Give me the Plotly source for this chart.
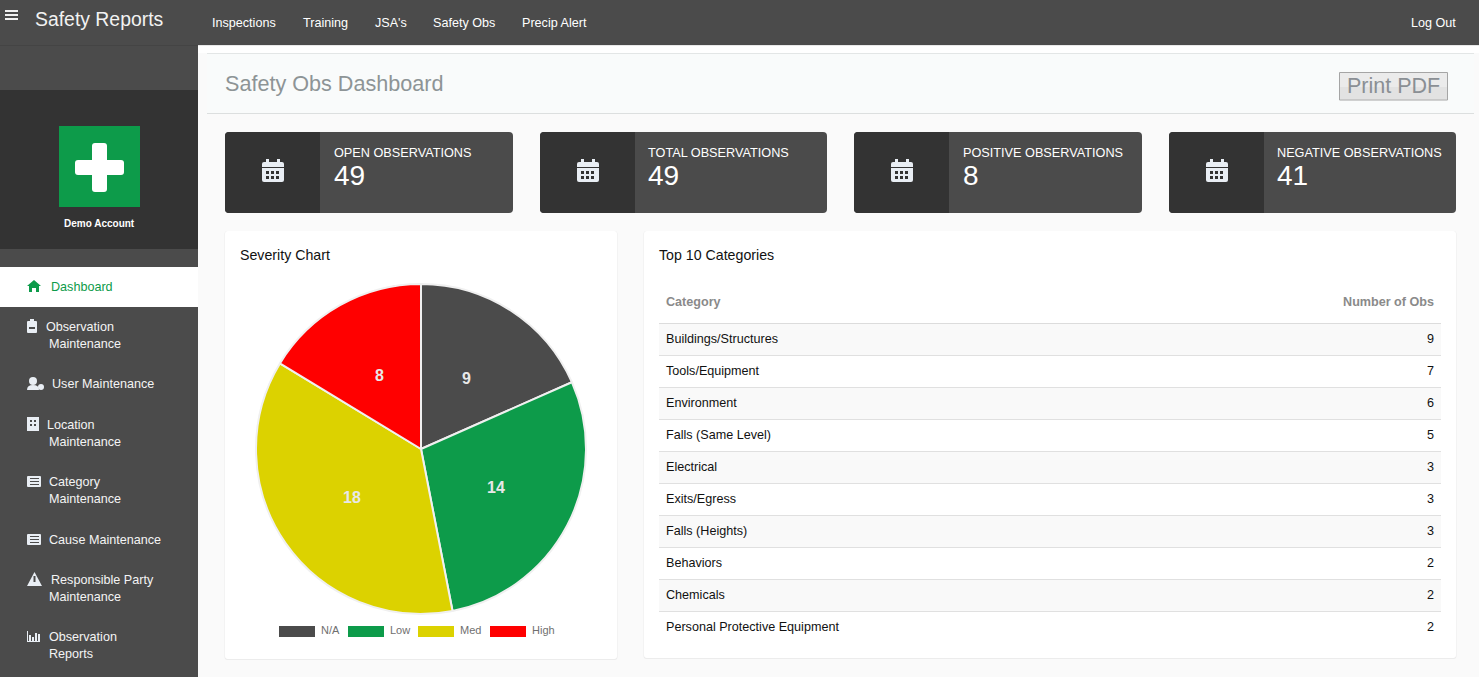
import math
import plotly.graph_objects as go

# chart data
severity_labels = ["N/A", "Low", "Med", "High"]
severity_values = [9, 14, 18, 8]
severity_colors = ["#4b4b4b", "#0d9b4a", "#dcd200", "#ff0000"]

categories = [
    "Buildings/Structures", "Tools/Equipment", "Environment", "Falls (Same Level)", "Electrical",
    "Exits/Egress", "Falls (Heights)", "Behaviors", "Chemicals", "Personal Protective Equipment",
]
category_counts = [9, 7, 6, 5, 3, 3, 3, 2, 2, 2]

stat_titles = ["OPEN OBSERVATIONS", "TOTAL OBSERVATIONS", "POSITIVE OBSERVATIONS", "NEGATIVE OBSERVATIONS"]
stat_values = [49, 49, 8, 41]

nav_labels = ["Inspections", "Training", "JSA's", "Safety Obs", "Precip Alert"]

W, H = 1479, 677
DARK = "#4b4b4b"
DARKER = "#333333"
GREEN = "#0d9b4a"
FONT = "Liberation Sans"
ICON = "#e9eef4"

shapes = []
annotations = []


def rect(x0, y0, x1, y1, fill, layer="below"):
    shapes.append(dict(type="rect", xref="x", yref="y", x0=x0, y0=y0, x1=x1, y1=y1,
                       fillcolor=fill, line_width=0, layer=layer))


def circle(x0, y0, x1, y1, fill):
    shapes.append(dict(type="circle", xref="x", yref="y", x0=x0, y0=y0, x1=x1, y1=y1,
                       fillcolor=fill, line_width=0, layer="below"))


def rrect_path(x0, y0, x1, y1, r=3, left=True, right=True):
    rl = r if left else 0
    rr = r if right else 0
    return (f"M{x0 + rl},{y0} L{x1 - rr},{y0} Q{x1},{y0} {x1},{y0 + rr} L{x1},{y1 - rr} Q{x1},{y1} {x1 - rr},{y1} "
            f"L{x0 + rl},{y1} Q{x0},{y1} {x0},{y1 - rl} L{x0},{y0 + rl} Q{x0},{y0} {x0 + rl},{y0} Z")


def path(d, fill, layer="below"):
    shapes.append(dict(type="path", xref="x", yref="y", path=d, fillcolor=fill, line_width=0, layer=layer))


def hline(x0, x1, y, color):
    shapes.append(dict(type="line", xref="x", yref="y", x0=x0, x1=x1, y0=y, y1=y,
                       line=dict(color=color, width=1), layer="below"))


def text(x, y, s, size=12.6, color="#ffffff", anchor="left", bold=False):
    annotations.append(dict(x=x, y=y, xref="x", yref="y", text=f"<b>{s}</b>" if bold else s, showarrow=False,
                            xanchor=anchor, yanchor="middle", borderpad=0, borderwidth=0,
                            font=dict(family=FONT, size=size, color=color)))


def calendar(x, y):
    # x, y = top-left of the icon
    path(rrect_path(x, y + 3, x + 22, y + 23, 2), ICON)
    rect(x + 4, y, x + 7, y + 5, ICON)
    rect(x + 15, y, x + 18, y + 5, ICON)
    rect(x, y + 8, x + 22, y + 9, DARKER)
    for row in (12, 17):
        for col in (4, 9, 14):
            rect(x + col, y + row, x + col + 3, y + row + 3, DARKER)


# page frame
rect(0, 0, 198, H, DARK)
rect(198, 45, W, 53, "#ffffff")
rect(207, 53, W - 5, 113, "#f9fbfb")
hline(207, W - 5, 53.5, "#e3e6e6")
hline(207, W - 5, 113.5, "#dcdfdf")
rect(0, 0, W, 45, DARK)
rect(0, 45, 198, 46, "#444444")
rect(198, 45, W, 46, "#e8e8e8")

# hamburger + navbar
for y in (10, 14, 18):
    rect(5, y, 18, y + 2, "#f2f2f2")
text(35, 18.5, "Safety Reports", size=19.4, color="#f2f2f2")
for x, s in zip([212, 303, 375, 433, 522], nav_labels):
    text(x, 23, s, size=12.6, color="#ffffff")
text(1456, 23, "Log Out", size=12.6, anchor="right")

# account block
rect(0, 90, 198, 249, DARKER)
rect(59, 126, 140, 207, GREEN)
path(rrect_path(92, 143, 107, 192, 3), "#ffffff")
path(rrect_path(75, 160, 124, 175, 3), "#ffffff")
text(99.5, 223, "Demo Account", size=10, anchor="center", bold=True)

# sidebar
rect(0, 267, 198, 307, "#ffffff")
path("M27,286 L34,280 L41,286 L39,286 L39,292 L36,292 L36,288 L32,288 L32,292 L29,292 L29,286 Z", GREEN)
text(51, 287, "Dashboard", color=GREEN)
sidebar_text = [
    (46, 327, "Observation"), (49, 344, "Maintenance"), (52, 384, "User Maintenance"),
    (47, 425, "Location"), (49, 442, "Maintenance"), (49, 482, "Category"), (49, 499, "Maintenance"),
    (49, 540, "Cause Maintenance"), (51, 580, "Responsible Party"), (49, 597, "Maintenance"),
    (49, 637, "Observation"), (49, 654, "Reports"),
]
for x, y, s in sidebar_text:
    text(x, y, s, color="#f4f4f4")
# sidebar icons
path(rrect_path(27, 321, 37, 333, 1), ICON)
rect(30, 319, 34, 322, ICON)
rect(29, 327, 35, 329, DARK)
circle(29, 377, 37, 385, ICON)
path("M27,390 Q27,385 33,385 Q39,385 39,390 Z", ICON)
circle(38, 384, 44, 390, ICON)
rect(27, 417, 39, 431, ICON)
for yy in (420, 424):
    rect(30, yy, 32, yy + 2, DARK)
    rect(34, yy, 36, yy + 2, DARK)
for yy in (476, 534):
    path(rrect_path(27, yy, 41, yy + 11, 1), ICON)
    for dy in (2, 5, 8):
        rect(30, yy + dy, 39, yy + dy + 1, DARK)
path("M34.5,572 L42,586 L27,586 Z", ICON)
rect(33.5, 576, 35.5, 582, DARK)
rect(27, 631, 28, 642, ICON)
rect(27, 641, 40, 642, ICON)
for xx, top in zip((29, 32, 35, 38), (635, 637, 633, 634)):
    rect(xx, top, xx + 2, 641, ICON)

# title row
text(225, 83.5, "Safety Obs Dashboard", size=21.6, color="#8d9496")
shapes.append(dict(type="rect", xref="x", yref="y", x0=1339.5, x1=1447.5, y0=72.5, y1=100,
                   fillcolor="#ebebeb", line=dict(color="#a5a5a5", width=1), layer="below"))
rect(1340, 87, 1447, 99, "#e2e2e2")
text(1393, 85.5, "Print PDF", size=21.5, color="#8a8f94", anchor="center")

# stat cards
for x0, x1, tx, title, value in zip([225, 540, 854, 1169], [513, 827, 1142, 1456], [334, 648, 963, 1277],
                                    stat_titles, stat_values):
    path(rrect_path(x0, 132, x1, 213, 4), DARK)
    path(rrect_path(x0, 132, x0 + 95, 213, 4, right=False), DARKER)
    calendar(x0 + 37, 159)
    text(tx, 152.5, title, size=12.7, color="#ffffff")
    text(tx, 175.5, str(value), size=28, color="#ffffff")

# white panels
for x0, x1, y1 in [(225, 617, 659), (644, 1456, 658)]:
    path(rrect_path(x0 - 0.5, 231, x1 + 0.5, y1 + 1, 3), "#ececec")
    path(rrect_path(x0, 231, x1, y1, 3), "#ffffff")
text(240, 255, "Severity Chart", size=14.2, color="#111111")
text(659, 255, "Top 10 Categories", size=14.2, color="#111111")

# pie legend
for x0, label, color in zip([279, 348, 418, 490], severity_labels, severity_colors):
    rect(x0, 626, x0 + 36, 637, color)
    text(x0 + 42, 630, label, size=11, color="#6f6f6f")

# pie value labels sit at half radius on each slice's middle angle
PIE_CX, PIE_CY, PIE_R = 421, 449, 165
running = 0
for value in severity_values:
    angle = 2 * math.pi * (running + value / 2) / sum(severity_values)
    running += value
    text(PIE_CX + 0.51 * PIE_R * math.sin(angle), PIE_CY - 0.51 * PIE_R * math.cos(angle), str(value),
         size=16, color="#e8e8e8", anchor="center", bold=True)

# table stripes and rules
for i in range(len(categories)):
    if i % 2 == 0:
        rect(659, 323 + 32 * i, 1441, 355 + 32 * i, "#f9f9f9")
    if i > 0:
        hline(659, 1441, 323.5 + 32 * i, "#e0e0e0")
hline(659, 1441, 323.5, "#dcdcdc")

fig = go.Figure()
fig.add_trace(go.Scatter(x=[], y=[], showlegend=False, hoverinfo="skip"))
fig.add_trace(go.Pie(
    labels=severity_labels,
    values=severity_values,
    marker=dict(colors=severity_colors, line=dict(color="#f0f0f0", width=2)),
    sort=False,
    direction="clockwise",
    rotation=0,
    textinfo="none",
    domain=dict(x=[(PIE_CX - PIE_R) / W, (PIE_CX + PIE_R) / W], y=[1 - (PIE_CY + PIE_R) / H, 1 - (PIE_CY - PIE_R) / H]),
    showlegend=False,
    hoverinfo="label+value",
))
fig.add_trace(go.Table(
    domain=dict(x=[658 / W, 1442 / W], y=[1 - 650 / H, 1 - 287 / H]),
    columnwidth=[650, 134],
    header=dict(
        values=["<b>Category</b>", "<b>Number of Obs</b>"],
        align=["left", "right"],
        height=39,
        fill_color="rgba(0,0,0,0)",
        line_width=0,
        font=dict(family=FONT, size=12.6, color="#8a8a8a"),
    ),
    cells=dict(
        values=[categories, category_counts],
        align=["left", "right"],
        height=32,
        fill_color="rgba(0,0,0,0)",
        line_width=0,
        font=dict(family=FONT, size=12.6, color="#111111"),
    ),
))

fig.update_layout(
    width=W,
    height=H,
    margin=dict(l=0, r=0, t=0, b=0),
    paper_bgcolor="#fafafa",
    plot_bgcolor="rgba(0,0,0,0)",
    xaxis=dict(range=[0, W], visible=False, fixedrange=True),
    yaxis=dict(range=[H, 0], visible=False, fixedrange=True),
    shapes=shapes,
    annotations=annotations,
    showlegend=False,
)

fig.write_html(
    "out.html",
    config={"displayModeBar": False},
    post_script="document.body.style.margin='0';document.body.style.overflow='hidden';",
)
